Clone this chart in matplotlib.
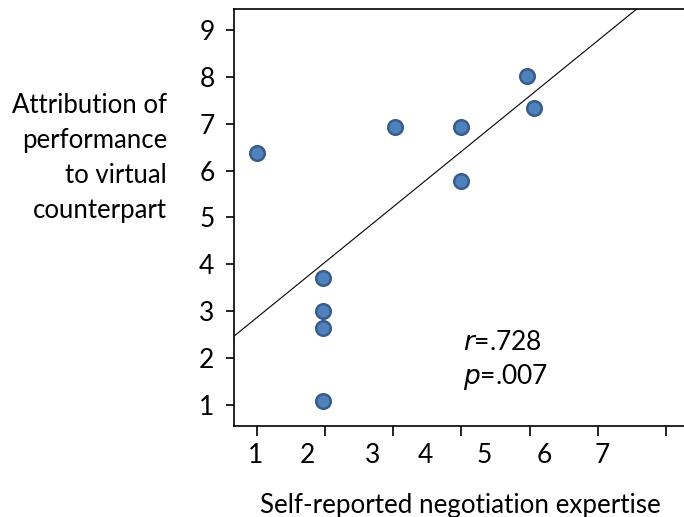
import matplotlib
matplotlib.use('Agg')
import matplotlib.pyplot as plt

plt.rcParams['font.family'] = ['Lato', 'DejaVu Sans']

# self-reported expertise vs attribution score
expertise = [1.0, 1.97, 1.97, 1.98, 1.98, 3.03, 3.99, 3.99, 4.96, 5.06]
attribution = [6.38, 3.70, 3.00, 2.64, 1.08, 6.94, 6.94, 5.77, 8.02, 7.34]

# fitted regression line
fit_slope = 1.184
fit_intercept = 1.674

xticks = [1, 2, 3, 4, 5, 6, 7]
yticks = [1, 2, 3, 4, 5, 6, 7, 8, 9]
# tick labels sit where the original slide put them
xlabel_pos = [0.99, 1.74, 2.70, 3.47, 4.34, 5.22, 6.07]

fig = plt.figure(figsize=(6.84, 5.17), dpi=100)
ax = fig.add_axes([234 / 684, 1 - 426 / 517, 1 - 234 / 684, (426 - 9) / 517])

xlim = (0.67, 7.26)
ylim = (0.55, 9.45)
ax.set_xlim(*xlim)
ax.set_ylim(*ylim)

ax.plot(xlim, [fit_intercept + fit_slope * v for v in xlim],
        color='black', lw=0.8, zorder=2)
ax.scatter(expertise, attribution, s=110, color='#4F81BD',
           edgecolor='#385D8A', linewidth=1.8, zorder=3)

ax.spines['right'].set_visible(False)
for sp in ['left', 'top', 'bottom']:
    ax.spines[sp].set_linewidth(1.2)

# tick marks on the integers, labels on their own positions
ax.set_xticks(xticks, minor=True)
ax.set_xticks(xlabel_pos, [str(t) for t in xticks])
ax.tick_params(axis='x', which='minor', length=7, width=1.2, direction='out')
ax.tick_params(axis='x', which='major', length=0, pad=12, labelsize=19)
ax.set_yticks(yticks, [str(t) for t in yticks])
ax.tick_params(axis='y', length=6, width=1.2, direction='out', pad=8, labelsize=19)

ax.text(4.02, 2.34, r'$\it{r}$=.728', fontsize=19, va='center', ha='left')
ax.text(4.02, 1.60, r'$\it{p}$=.007', fontsize=19, va='center', ha='left')

fig.text(167 / 684, 1 - 158 / 517,
         'Attribution of\nperformance\nto virtual\ncounterpart',
         ha='right', va='center', fontsize=18.5, linespacing=1.5)
fig.text(460 / 684, 1 - 505 / 517, 'Self-reported negotiation expertise',
         ha='center', va='center', fontsize=18.7)

fig.savefig('out.png', dpi=100)
